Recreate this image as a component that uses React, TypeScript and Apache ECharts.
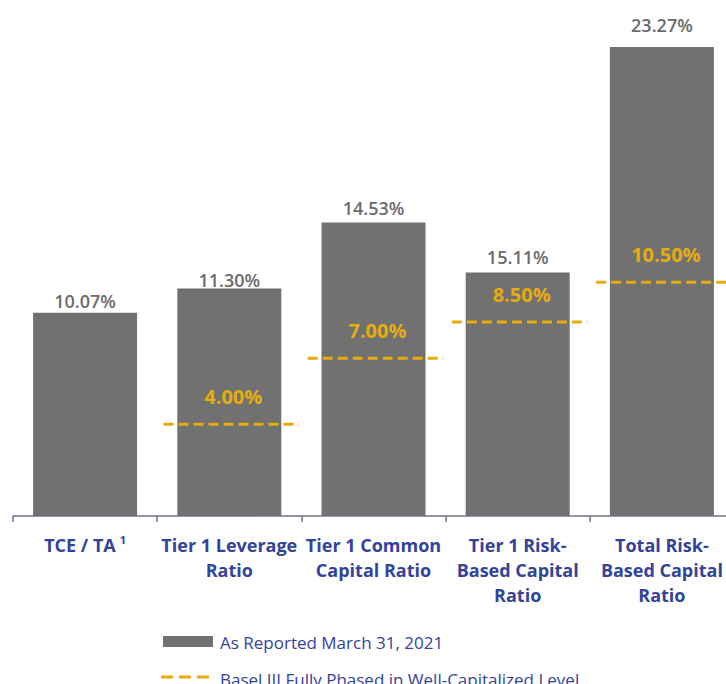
import React, { useEffect, useRef } from "react";
import * as echarts from "echarts";

// Categories (x axis)
const categories = [
  "TCE / TA",
  "Tier 1 Leverage\nRatio",
  "Tier 1 Common\nCapital Ratio",
  "Tier 1 Risk-\nBased Capital\nRatio",
  "Total Risk-\nBased Capital\nRatio",
];

// Bar heights as drawn in the picture, and their printed labels
const barValues = [10.08, 11.28, 14.56, 12.08, 23.27];
const barLabels = ["10.07%", "11.30%", "14.53%", "15.11%", "23.27%"];

// Basel III well-capitalized levels: category index, drawn level, printed label
const baselCategoryIndex = [1, 2, 3, 4];
const baselDrawnLevels = [4.55, 7.83, 9.62, 11.6];
const baselLabels = ["4.00%", "7.00%", "8.50%", "10.50%"];

const legendBarName = "As Reported March 31, 2021";
const legendLineName = "Basel III Fully Phased in Well-Capitalized Level";

// styling
const labelDistance = [3, 0, 5, 6, 13];
const GRAY = "#717171";
const GOLD = "#E6AC0E";
const BLUE = "#33439A";
const FONT = "Open Sans";

export default function App() {
  const ref = useRef<HTMLDivElement>(null);

  useEffect(() => {
    if (!ref.current) return;
    const chart = echarts.init(ref.current, undefined, { renderer: "svg" });

    const baselData = baselCategoryIndex.map((c, i) => [c, baselDrawnLevels[i]]);
    const barData = barValues.map((v, i) => ({ value: v, label: { distance: labelDistance[i] } }));

    chart.setOption({
      animation: false,
      grid: { left: 13, width: 721, top: 12, height: 504 },
      xAxis: {
        type: "category",
        data: categories,
        axisLine: { show: true, lineStyle: { color: "#6E7399", width: 1.5 } },
        axisTick: { show: true, alignWithLabel: false, length: 6, lineStyle: { color: "#6E7399", width: 1.5 } },
        axisLabel: {
          interval: 0,
          color: BLUE,
          fontFamily: FONT,
          fontWeight: "bold",
          fontSize: 18,
          lineHeight: 25,
          margin: 16,
          formatter: (v: string) => (v === "TCE / TA" ? "{b|TCE / TA}{sup|1}" : v),
          rich: {
            b: { color: BLUE, fontFamily: FONT, fontWeight: "bold", fontSize: 18, lineHeight: 25 },
            sup: { color: BLUE, fontFamily: FONT, fontWeight: "bold", fontSize: 11, padding: [0, 0, 10, 4] },
          },
        },
      },
      yAxis: {
        type: "value",
        min: 0,
        max: 25,
        show: false,
        splitLine: { show: false },
      },
      series: [
        {
          type: "bar",
          name: legendBarName,
          data: barData,
          barWidth: 104,
          itemStyle: { color: GRAY },
          label: {
            show: true,
            position: "top",
            formatter: (p: any) => barLabels[p.dataIndex],
            color: "#6B6B6B",
            fontFamily: FONT,
            fontWeight: 600,
            fontSize: 18,
          },
          z: 2,
        },
        {
          type: "custom",
          name: legendLineName,
          data: baselData,
          encode: { x: 0, y: 1 },
          z: 5,
          renderItem: (params: any, api: any) => {
            const pt = api.coord([api.value(0), api.value(1)]);
            const bw = api.size([1, 0])[0];
            const w = bw * 0.94;
            const cx = pt[0] + 2;
            return {
              type: "group",
              children: [
                {
                  type: "line",
                  shape: { x1: cx - w / 2, y1: pt[1], x2: cx + w / 2, y2: pt[1] },
                  style: { stroke: GOLD, lineWidth: 3, lineDash: [10, 5] },
                },
                {
                  type: "text",
                  x: pt[0] + 4,
                  y: pt[1] - 28,
                  style: {
                    text: baselLabels[params.dataIndex],
                    fill: GOLD,
                    font: `bold 20px "${FONT}"`,
                    align: "center",
                    verticalAlign: "middle",
                  },
                },
              ],
            };
          },
        },
      ],
      graphic: [
        { type: "rect", shape: { x: 163, y: 636, width: 50, height: 11 }, style: { fill: GRAY } },
        {
          type: "text",
          x: 220,
          y: 642,
          style: { text: legendBarName, fill: BLUE, font: `17px "${FONT}"`, verticalAlign: "middle" },
        },
        {
          type: "line",
          shape: { x1: 161, y1: 677, x2: 213, y2: 677 },
          style: { stroke: GOLD, lineWidth: 3, lineDash: [12, 6] },
        },
        {
          type: "text",
          x: 220,
          y: 679,
          style: { text: legendLineName, fill: BLUE, font: `17px "${FONT}"`, verticalAlign: "middle" },
        },
      ],
    });

    return () => chart.dispose();
  }, []);

  return (
    <div style={{ position: "fixed", left: 0, top: 0, width: 726, height: 684, overflow: "hidden", background: "#fff" }}>
      <div ref={ref} style={{ width: 740, height: 684 }} />
    </div>
  );
}
